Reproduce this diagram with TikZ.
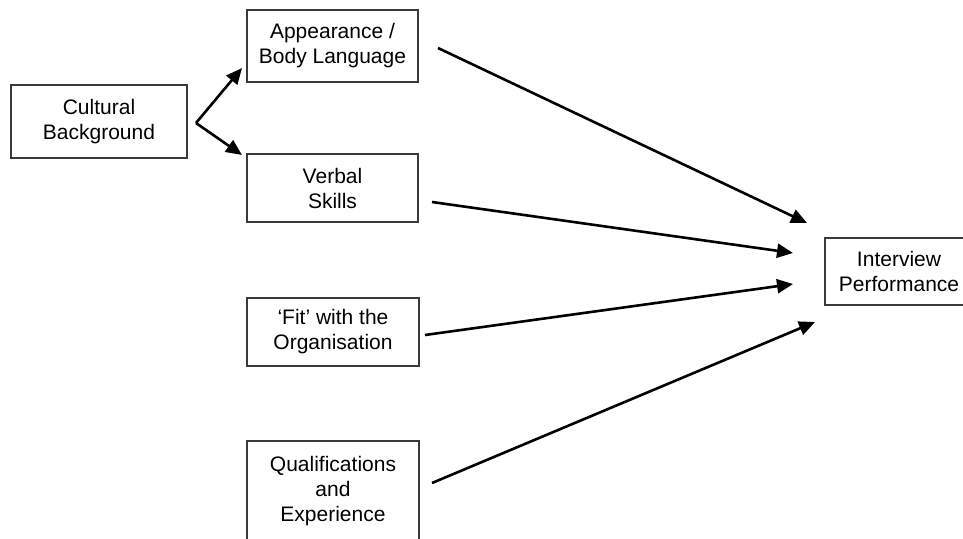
\documentclass[tikz,border=0pt]{standalone}
\usepackage{fontspec}
\setmainfont{Liberation Sans}
\usetikzlibrary{arrows.meta}
\definecolor{boxline}{HTML}{3A3A3A}
\tikzset{
  boxnode/.style={draw=boxline, line width=1.3pt, align=center, inner sep=0pt,
    font=\fontsize{21}{25}\selectfont},
  conn/.style={line width=2.6pt, -{Triangle[length=16pt,width=14pt]}}
}
\begin{document}
\begin{tikzpicture}[x=1pt,y=-1pt]
\useasboundingbox (0,0) rectangle (963,538);
\clip (0,0) rectangle (963,538);
\node[boxnode, minimum width=176pt, minimum height=73pt] (cult) at (99,121.5) {Cultural\\Background};
\node[boxnode, minimum width=171pt, minimum height=72pt] (app) at (332.5,46) {Appearance /\\Body Language};
\node[boxnode, minimum width=171pt, minimum height=68pt] (verb) at (332.5,188) {Verbal\\Skills};
\node[boxnode, minimum width=172pt, minimum height=68pt] (fit) at (333,332) {‘Fit’ with the\\Organisation};
\node[boxnode, minimum width=172pt, minimum height=100pt] (qual) at (333,491) {Qualifications\\and\\Experience};
\node[boxnode, minimum width=148pt, minimum height=67pt] (perf) at (899,271.5) {Interview\\Performance};
% connector end points
\coordinate (v) at (196,123);
\coordinate (a1) at (242,68);
\coordinate (a2) at (242,155);
\coordinate (s1) at (438,48);
\coordinate (t1) at (807,223);
\coordinate (s2) at (432,202);
\coordinate (t2) at (793,253);
\coordinate (s3) at (425,335);
\coordinate (t3) at (793,284);
\coordinate (s4) at (432,483);
\coordinate (t4) at (815,322);
\draw[conn] (v) -- (a1);
\draw[conn] (v) -- (a2);
\draw[conn] (s1) -- (t1);
\draw[conn] (s2) -- (t2);
\draw[conn] (s3) -- (t3);
\draw[conn] (s4) -- (t4);
\end{tikzpicture}
\end{document}
